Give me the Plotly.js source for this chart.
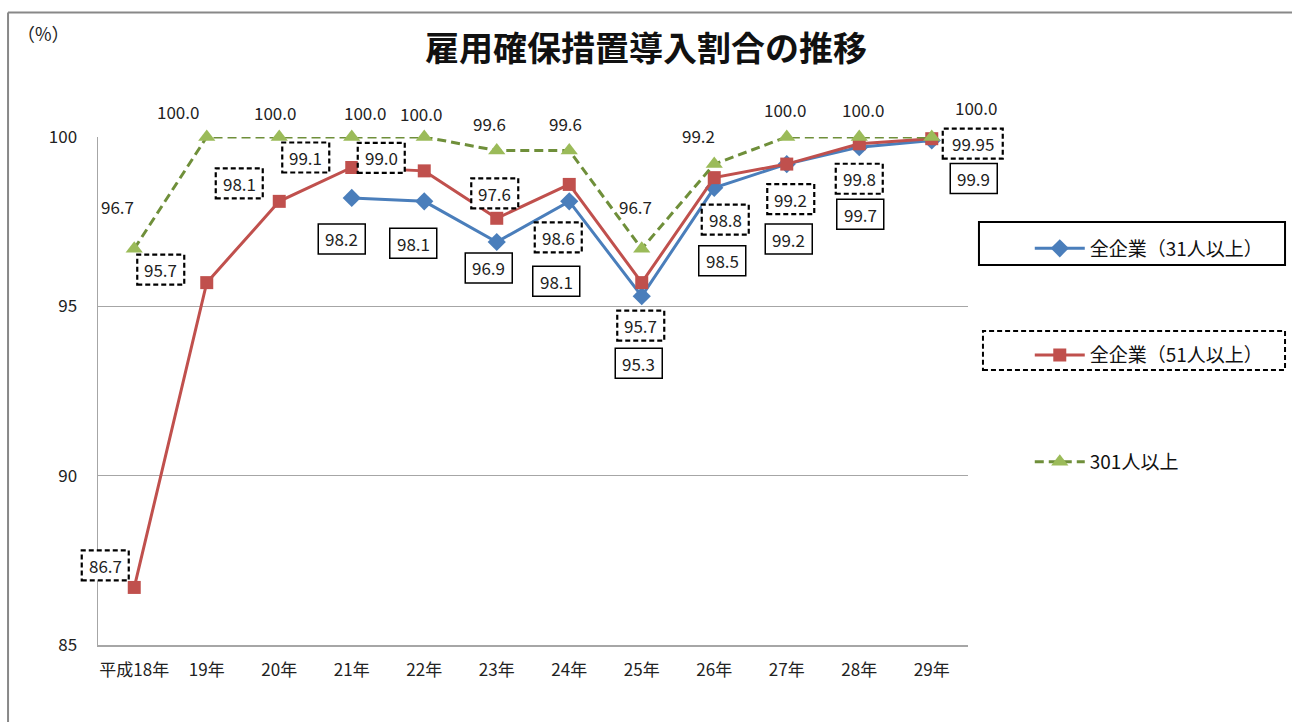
<!DOCTYPE html>
<html>
<head>
<meta charset="utf-8">
<script src="https://cdn.plot.ly/plotly-3.0.1.min.js"></script>
<style>
  html, body { margin: 0; padding: 0; background: #ffffff; }
  #chart { width: 1292px; height: 722px; }
</style>
</head>
<body>
<div id="chart"></div>
<script>
// ---------- data ----------
const years = ["平成18年", "19年", "20年", "21年", "22年", "23年", "24年", "25年", "26年", "27年", "28年", "29年"];
const seriesNames = ["全企業（31人以上）", "全企業（51人以上）", "301人以上"];
const all31 = [null, null, null, 98.2, 98.1, 96.9, 98.1, 95.3, 98.5, 99.2, 99.7, 99.9];
const all51 = [86.7, 95.7, 98.1, 99.1, 99.0, 97.6, 98.6, 95.7, 98.8, 99.2, 99.8, 99.95];
const over301 = [96.7, 100.0, 100.0, 100.0, 100.0, 99.6, 99.6, 96.7, 99.2, 100.0, 100.0, 100.0];
const yTicks = [85, 90, 95, 100];

// ---------- label placement (pixel offsets from each point: [dx, dy-down]) ----------
const off31 = [null, null, null, [-10, 41], [-11, 42], [-8, 26], [-13, 80], [-3, 67], [8, 73], [2, 75], [1, 67], [42, 38]];
const off51 = [[-29, -22], [-46, -13], [-40, -18], [-46, -10], [-43, -13], [-2, -25], [-11, 53], [-1, 43], [11, 42], [4, 35], [0, 35], [41, 5]];
const off301 = [[-17, -42], [-29, -26], [-4, -25], [13, -25], [-3, -24], [-7, -27], [-4, -27], [-6, -42], [-16, -29], [-2, -28], [4, -28], [44, -30]];

const FONT = '"Noto Sans CJK JP", "Noto Sans", sans-serif';
const BLUE = '#4a7ebb', RED = '#c0504d', GREEN_LINE = '#6f8f3a', GREEN_MK = '#9bbb59';
const XR = [-0.5, years.length - 0.5];
const YR = [85, 100];

function fmt(v) {
  const t = v * 10;
  return Math.abs(Math.round(t) - t) < 1e-9 ? v.toFixed(1) : v.toFixed(2);
}
// axis-fraction position of a category / value (same linear scale as the axes)
const xFrac = i => (i - XR[0]) / (XR[1] - XR[0]);
const yFrac = v => (v - YR[0]) / (YR[1] - YR[0]);

const traces = [
  { x: years, y: all31, name: seriesNames[0], type: 'scatter', mode: 'lines+markers',
    line: { color: BLUE, width: 3 }, marker: { symbol: 'diamond', size: 14, color: BLUE },
    cliponaxis: false, legendgroup: 'a', connectgaps: false, hoverinfo: 'x+y' },
  { x: years, y: all51, name: seriesNames[1], type: 'scatter', mode: 'lines+markers',
    line: { color: RED, width: 3 }, marker: { symbol: 'square', size: 13, color: RED },
    cliponaxis: false, legendgroup: 'b', hoverinfo: 'x+y' },
  { x: years, y: over301, name: seriesNames[2], type: 'scatter', mode: 'lines+markers',
    line: { color: GREEN_LINE, width: 3, dash: '9px,5px' }, marker: { symbol: 'triangle-up', size: 15, color: GREEN_MK },
    cliponaxis: false, legendgroup: 'c', hoverinfo: 'x+y' }
];

const shapes = [];
const annotations = [];

function addLabels(values, offsets, boxStyle) {
  values.forEach((v, i) => {
    if (v === null || offsets[i] === null) return;
    const txt = fmt(v);
    const [dx, dy] = offsets[i];
    if (boxStyle) {
      const w = txt.length > 4 ? 60 : 47, h = 30;
      shapes.push({
        type: 'rect', xref: 'paper', yref: 'paper', xsizemode: 'pixel', ysizemode: 'pixel',
        xanchor: xFrac(i), yanchor: yFrac(v),
        x0: dx - w / 2, x1: dx + w / 2, y0: -dy - h / 2, y1: -dy + h / 2,
        line: { color: '#000000', width: boxStyle === 'dash' ? 2.2 : 1.5, dash: boxStyle === 'dash' ? '5px,3px' : 'solid' },
        fillcolor: '#ffffff', layer: 'above'
      });
    }
    annotations.push({
      x: i, y: v, xref: 'x', yref: 'y', xshift: dx, yshift: -dy, showarrow: false,
      text: txt, font: { family: FONT, size: 17, color: '#222222' }, xanchor: 'center', yanchor: 'middle'
    });
  });
}
addLabels(over301, off301, null);
addLabels(all51, off51, 'dash');
addLabels(all31, off31, 'solid');

// unit label
annotations.push({ xref: 'paper', yref: 'paper', x: -0.0632, y: 1.2047, text: '（%）', showarrow: false,
  font: { family: FONT, size: 18, color: '#222222' }, xanchor: 'center', yanchor: 'middle' });

// chart frame (top and left edges)
shapes.push({ type: 'line', xref: 'paper', yref: 'paper', x0: -0.1034, x1: 1.3724, y0: 1.2451, y1: 1.2451,
  line: { color: '#888888', width: 2 } });
shapes.push({ type: 'line', xref: 'paper', yref: 'paper', x0: -0.1034, x1: -0.1034, y0: 1.2451, y1: -0.1516,
  line: { color: '#888888', width: 2 } });
// legend item frames
shapes.push({ type: 'rect', xref: 'paper', yref: 'paper', x0: 1.0126, x1: 1.3644, y0: 0.748, y1: 0.8327,
  line: { color: '#000000', width: 2 }, fillcolor: 'rgba(0,0,0,0)' });
shapes.push({ type: 'rect', xref: 'paper', yref: 'paper', x0: 1.0172, x1: 1.3644, y0: 0.5413, y1: 0.6181,
  line: { color: '#000000', width: 2, dash: '5px,3px' }, fillcolor: 'rgba(0,0,0,0)' });

const layout = {
  width: 1292, height: 722,
  margin: { l: 98, r: 324, t: 137, b: 77 },
  paper_bgcolor: '#ffffff', plot_bgcolor: '#ffffff',
  font: { family: FONT, size: 16, color: '#222222' },
  title: { text: '<b>雇用確保措置導入割合の推移</b>', x: 0.5, xref: 'container', y: 1 - 49 / 722, yref: 'container',
    xanchor: 'center', yanchor: 'middle', font: { family: FONT, size: 34, color: '#111111' } },
  xaxis: { type: 'category', range: XR, showgrid: false, showline: true, linecolor: '#a6a6a6', linewidth: 1.5,
    ticks: '', tickfont: { family: FONT, size: 17, color: '#222222' }, ticklabelstandoff: 9, fixedrange: true },
  yaxis: { range: YR, tickvals: yTicks, showgrid: true, gridcolor: '#a6a6a6', gridwidth: 1,
    showline: true, linecolor: '#a6a6a6', linewidth: 1.5, zeroline: false, ticks: '',
    tickfont: { family: FONT, size: 17, color: '#222222' }, ticklabelstandoff: 16, fixedrange: true },
  showlegend: true,
  legend: { x: 1.071, y: 0.818, xanchor: 'left', yanchor: 'top', traceorder: 'grouped', tracegroupgap: 79,
    font: { family: FONT, size: 19, color: '#111111' }, bgcolor: 'rgba(0,0,0,0)', itemwidth: 50 },
  shapes: shapes,
  annotations: annotations
};

Plotly.newPlot('chart', traces, layout, { displayModeBar: false, staticPlot: true });
</script>
</body>
</html>
